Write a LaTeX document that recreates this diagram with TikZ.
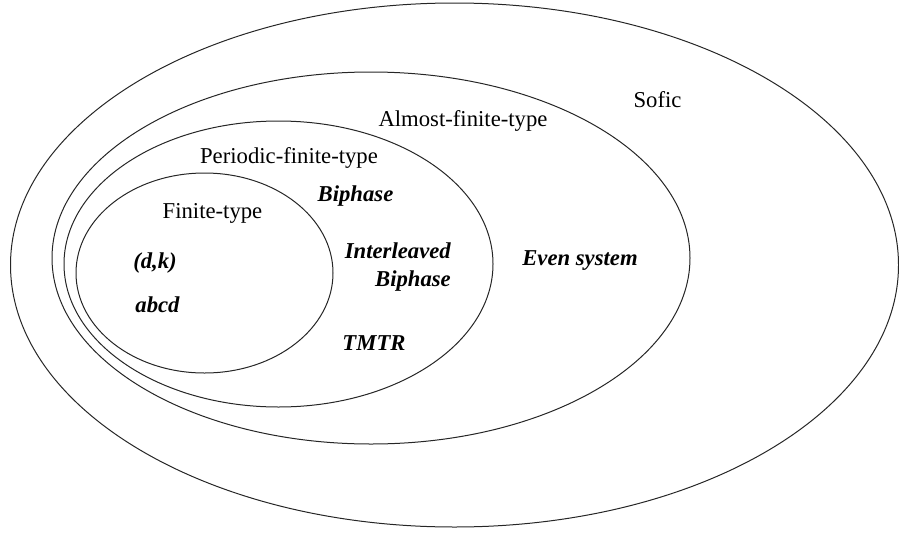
\documentclass[tikz,border=0pt]{standalone}
\usepackage{fontspec}
\setmainfont{Liberation Serif}
\begin{document}
\begin{tikzpicture}[x=1pt,y=-1pt,
  setline/.style={draw=black!85,line width=1pt},
  plainlabel/.style={inner sep=0pt,font=\fontsize{22.7}{27.5}\selectfont},
  member/.style={inner sep=0pt,font=\fontsize{22.7}{27.5}\selectfont\bfseries\itshape}]
\useasboundingbox (0,0) rectangle (899,533);
% sets
\draw[setline] (454.5,265) ellipse [x radius=444, y radius=262];
\draw[setline] (371,258) ellipse [x radius=319, y radius=186];
\draw[setline] (278.5,264) ellipse [x radius=214.5, y radius=143];
\draw[setline] (204.5,273) ellipse [x radius=128.5, y radius=100];
% set names
\node[plainlabel] (sofic) at (657.5,100) {Sofic};
\node[plainlabel] (aft) at (463,121) {Almost-finite-type};
\node[plainlabel] (pft) at (289,158) {Periodic-finite-type};
\node[plainlabel] (ft) at (212.5,213) {Finite-type};
% members
\node[member] (biphase) at (355.5,196) {Biphase};
\node[member,align=right,anchor=east] (ilb) at (451,267) {Interleaved\\Biphase};
\node[member] (even) at (580,261) {Even system};
\node[member] (dk) at (155,263) {(d,k)};
\node[member] (abcd) at (157.5,305) {abcd};
\node[member] (tmtr) at (374,343) {TMTR};
\end{tikzpicture}
\end{document}
